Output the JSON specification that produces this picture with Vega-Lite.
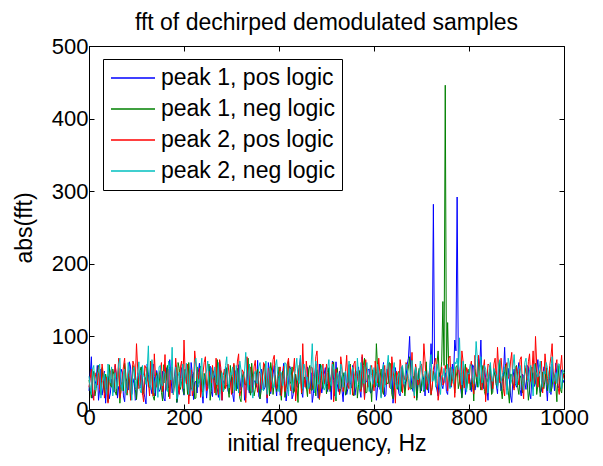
{
"$schema": "https://vega.github.io/schema/vega-lite/v6.json",
"width": 475, "height": 363,
"autosize": {"type": "none"},
"padding": {"left": 89, "top": 46, "right": 39, "bottom": 57},
"background": "white",
"config": {
  "font": "Liberation Sans",
  "view": {"stroke": "black", "strokeWidth": 1},
  "axis": {"grid": false, "domainColor": "black", "tickColor": "black", "labelColor": "black", "titleColor": "black", "labelFont": "Liberation Sans", "titleFont": "Liberation Sans", "labelFontSize": 22, "titleFontSize": 23, "titleFontWeight": "normal", "tickSize": -5, "domainWidth": 1, "tickWidth": 1, "labelFlush": false, "labelOverlap": false}
},
"title": {"text": "fft of dechirped demodulated samples", "fontSize": 23, "fontWeight": "normal", "color": "black", "font": "Liberation Sans", "baseline": "bottom", "offset": -23},
"data": {"values": [
{"f":0,"a":25,"b":40,"c":30,"d":45},{"f":2.5,"a":48,"b":26,"c":42,"d":30},{"f":5,"a":72,"b":15,"c":55,"d":20},{"f":7.5,"a":15,"b":44,"c":20,"d":55},{"f":10,"a":18,"b":52,"c":12,"d":60},{"f":12.5,"a":33,"b":18,"c":50,"d":26},{"f":15,"a":40,"b":28,"c":42,"d":33},{"f":17.5,"a":60,"b":50,"c":33,"d":48},{"f":20,"a":12,"b":60,"c":58,"d":52},{"f":22.5,"a":27,"b":35,"c":27,"d":62},
{"f":25,"a":55,"b":20,"c":20,"d":15},{"f":27.5,"a":19,"b":57,"c":62,"d":36},{"f":30,"a":30,"b":35,"c":48,"d":40},{"f":32.5,"a":52,"b":22,"c":15,"d":50},{"f":35,"a":8,"b":48,"c":35,"d":28},{"f":37.5,"a":36,"b":40,"c":44,"d":20},{"f":40,"a":45,"b":10,"c":8,"d":62},{"f":42.5,"a":14,"b":61,"c":38,"d":44},{"f":45,"a":22,"b":33,"c":50,"d":36},{"f":47.5,"a":41,"b":30,"c":56,"d":58},
{"f":50,"a":35,"b":55,"c":26,"d":18},{"f":52.5,"a":23,"b":47,"c":31,"d":40},{"f":55,"a":60,"b":24,"c":62,"d":50},{"f":57.5,"a":47,"b":19,"c":48,"d":28},{"f":60,"a":15,"b":42,"c":38,"d":42},{"f":62.5,"a":31,"b":56,"c":70,"d":62},{"f":65,"a":28,"b":8,"c":15,"d":70},{"f":67.5,"a":55,"b":33,"c":24,"d":35},{"f":70,"a":50,"b":37,"c":45,"d":25},{"f":72.5,"a":18,"b":25,"c":58,"d":50},
{"f":75,"a":10,"b":63,"c":70,"d":55},{"f":77.5,"a":42,"b":48,"c":36,"d":22},{"f":80,"a":38,"b":19,"c":22,"d":30},{"f":82.5,"a":26,"b":38,"c":45,"d":64},{"f":85,"a":65,"b":46,"c":53,"d":48},{"f":87.5,"a":58,"b":14,"c":12,"d":38},{"f":90,"a":20,"b":29,"c":33,"d":12},{"f":92.5,"a":35,"b":60,"c":66,"d":54},{"f":95,"a":42,"b":51,"c":60,"d":58},{"f":97.5,"a":12,"b":27,"c":40,"d":30},
{"f":100,"a":14,"b":13,"c":90,"d":38},{"f":102.5,"a":50,"b":42,"c":55,"d":48},{"f":105,"a":33,"b":39,"c":28,"d":65},{"f":107.5,"a":29,"b":53,"c":34,"d":26},{"f":110,"a":58,"b":58,"c":47,"d":22},{"f":112.5,"a":40,"b":20,"c":22,"d":60},{"f":115,"a":25,"b":22,"c":10,"d":46},{"f":117.5,"a":16,"b":36,"c":60,"d":42},{"f":120,"a":7,"b":45,"c":56,"d":34},{"f":122.5,"a":62,"b":58,"c":41,"d":55},
{"f":125,"a":48,"b":31,"c":37,"d":87},{"f":127.5,"a":34,"b":29,"c":18,"d":32},{"f":130,"a":30,"b":66,"c":65,"d":27},{"f":132.5,"a":21,"b":45,"c":52,"d":68},{"f":135,"a":62,"b":17,"c":18,"d":53},{"f":137.5,"a":45,"b":12,"c":76,"d":22},{"f":140,"a":18,"b":41,"c":44,"d":40},{"f":142.5,"a":53,"b":50,"c":30,"d":46},{"f":145,"a":40,"b":26,"c":30,"d":16},{"f":147.5,"a":24,"b":34,"c":47,"d":58},
{"f":150,"a":27,"b":53,"c":52,"d":60},{"f":152.5,"a":38,"b":23,"c":64,"d":36},{"f":155,"a":52,"b":11,"c":24,"d":32},{"f":157.5,"a":15,"b":61,"c":38,"d":52},{"f":160,"a":11,"b":36,"c":75,"d":49},{"f":162.5,"a":57,"b":40,"c":26,"d":28},{"f":165,"a":36,"b":60,"c":40,"d":24},{"f":167.5,"a":29,"b":17,"c":55,"d":66},{"f":170,"a":68,"b":24,"c":14,"d":57},{"f":172.5,"a":44,"b":52,"c":45,"d":40},
{"f":175,"a":22,"b":47,"c":58,"d":85},{"f":177.5,"a":33,"b":31,"c":20,"d":20},{"f":180,"a":45,"b":30,"c":32,"d":36},{"f":182.5,"a":60,"b":46,"c":70,"d":58},{"f":185,"a":9,"b":9,"c":49,"d":14},{"f":187.5,"a":20,"b":64,"c":35,"d":45},{"f":190,"a":31,"b":56,"c":20,"d":51},{"f":192.5,"a":42,"b":27,"c":58,"d":30},{"f":195,"a":57,"b":38,"c":66,"d":42},{"f":197.5,"a":26,"b":38,"c":28,"d":62},
{"f":200,"a":19,"b":20,"c":95,"d":28},{"f":202.5,"a":54,"b":55,"c":48,"d":44},{"f":205,"a":43,"b":44,"c":35,"d":63},{"f":207.5,"a":31,"b":20,"c":62,"d":35},{"f":210,"a":26,"b":64,"c":7,"d":20},{"f":212.5,"a":18,"b":43,"c":33,"d":56},{"f":215,"a":64,"b":27,"c":54,"d":45},{"f":217.5,"a":49,"b":30,"c":18,"d":25},{"f":220,"a":13,"b":50,"c":27,"d":38},{"f":222.5,"a":37,"b":14,"c":80,"d":62},
{"f":225,"a":38,"b":15,"c":62,"d":70},{"f":227.5,"a":22,"b":58,"c":42,"d":48},{"f":230,"a":50,"b":35,"c":41,"d":30},{"f":232.5,"a":63,"b":37,"c":56,"d":38},{"f":235,"a":24,"b":59,"c":16,"d":55},{"f":237.5,"a":28,"b":25,"c":30,"d":70},{"f":240,"a":8,"b":23,"c":50,"d":17},{"f":242.5,"a":40,"b":49,"c":64,"d":32},{"f":245,"a":47,"b":42,"c":72,"d":48},{"f":247.5,"a":15,"b":33,"c":25,"d":52},
{"f":250,"a":33,"b":32,"c":29,"d":66},{"f":252.5,"a":46,"b":62,"c":52,"d":28},{"f":255,"a":59,"b":12,"c":45,"d":25},{"f":257.5,"a":24,"b":28,"c":36,"d":57},{"f":260,"a":17,"b":54,"c":60,"d":41},{"f":262.5,"a":52,"b":45,"c":44,"d":46},{"f":265,"a":41,"b":39,"c":22,"d":58},{"f":267.5,"a":30,"b":19,"c":70,"d":36},{"f":270,"a":28,"b":68,"c":38,"d":33},{"f":272.5,"a":16,"b":36,"c":20,"d":64},
{"f":275,"a":66,"b":21,"c":68,"d":12},{"f":277.5,"a":44,"b":53,"c":57,"d":40},{"f":280,"a":12,"b":46,"c":12,"d":50},{"f":282.5,"a":39,"b":24,"c":46,"d":24},{"f":285,"a":35,"b":28,"c":55,"d":44},{"f":287.5,"a":57,"b":47,"c":28,"d":60},{"f":290,"a":53,"b":57,"c":34,"d":72},{"f":292.5,"a":25,"b":31,"c":62,"d":35},{"f":295,"a":21,"b":16,"c":48,"d":29},{"f":297.5,"a":36,"b":60,"c":38,"d":50},
{"f":300,"a":44,"b":43,"c":20,"d":47},{"f":302.5,"a":20,"b":22,"c":45,"d":58},{"f":305,"a":10,"b":61,"c":63,"d":36},{"f":307.5,"a":53,"b":40,"c":30,"d":26},{"f":310,"a":37,"b":25,"c":42,"d":60},{"f":312.5,"a":28,"b":56,"c":66,"d":44},{"f":315,"a":61,"b":36,"c":76,"d":22},{"f":317.5,"a":43,"b":15,"c":18,"d":66},{"f":320,"a":26,"b":10,"c":26,"d":54},{"f":322.5,"a":34,"b":44,"c":54,"d":30},
{"f":325,"a":49,"b":49,"c":51,"d":40},{"f":327.5,"a":12,"b":34,"c":40,"d":52},{"f":330,"a":15,"b":33,"c":9,"d":78},{"f":332.5,"a":58,"b":52,"c":72,"d":40},{"f":335,"a":32,"b":70,"c":44,"d":26},{"f":337.5,"a":22,"b":27,"c":33,"d":62},{"f":340,"a":56,"b":19,"c":58,"d":45},{"f":342.5,"a":47,"b":63,"c":22,"d":24},{"f":345,"a":23,"b":40,"c":31,"d":15},{"f":347.5,"a":38,"b":18,"c":58,"d":48},
{"f":350,"a":39,"b":27,"c":67,"d":52},{"f":352.5,"a":30,"b":48,"c":36,"d":36},{"f":355,"a":67,"b":55,"c":23,"d":35},{"f":357.5,"a":17,"b":36,"c":52,"d":58},{"f":360,"a":14,"b":14,"c":49,"d":64},{"f":362.5,"a":55,"b":25,"c":28,"d":45},{"f":365,"a":46,"b":45,"c":36,"d":28},{"f":367.5,"a":26,"b":57,"c":64,"d":25},{"f":370,"a":29,"b":62,"c":60,"d":48},{"f":372.5,"a":41,"b":30,"c":42,"d":66},
{"f":375,"a":8,"b":30,"c":15,"d":20},{"f":377.5,"a":64,"b":42,"c":56,"d":40},{"f":380,"a":52,"b":18,"c":53,"d":58},{"f":382.5,"a":21,"b":64,"c":24,"d":54},{"f":385,"a":34,"b":51,"c":40,"d":42},{"f":387.5,"a":48,"b":20,"c":68,"d":30},{"f":390,"a":60,"b":37,"c":74,"d":30},{"f":392.5,"a":33,"b":46,"c":35,"d":60},{"f":395,"a":18,"b":24,"c":28,"d":68},{"f":397.5,"a":45,"b":35,"c":47,"d":44},
{"f":400,"a":42,"b":58,"c":46,"d":24},{"f":402.5,"a":19,"b":29,"c":58,"d":52},{"f":405,"a":25,"b":12,"c":18,"d":50},{"f":407.5,"a":50,"b":52,"c":40,"d":32},{"f":410,"a":63,"b":41,"c":59,"d":38},{"f":412.5,"a":35,"b":16,"c":24,"d":64},{"f":415,"a":11,"b":29,"c":33,"d":62},{"f":417.5,"a":27,"b":45,"c":62,"d":40},{"f":420,"a":36,"b":66,"c":70,"d":18},{"f":422.5,"a":59,"b":38,"c":36,"d":56},
{"f":425,"a":54,"b":35,"c":25,"d":46},{"f":427.5,"a":14,"b":58,"c":48,"d":26},{"f":430,"a":20,"b":22,"c":52,"d":33},{"f":432.5,"a":40,"b":24,"c":70,"d":48},{"f":435,"a":47,"b":48,"c":11,"d":56},{"f":437.5,"a":31,"b":34,"c":30,"d":70},{"f":440,"a":30,"b":9,"c":43,"d":40},{"f":442.5,"a":56,"b":60,"c":55,"d":35},{"f":445,"a":70,"b":53,"c":64,"d":74},{"f":447.5,"a":24,"b":21,"c":22,"d":50},
{"f":450,"a":16,"b":31,"c":90,"d":28},{"f":452.5,"a":44,"b":43,"c":44,"d":62},{"f":455,"a":40,"b":44,"c":30,"d":53},{"f":457.5,"a":28,"b":30,"c":66,"d":40},{"f":460,"a":58,"b":17,"c":48,"d":44},{"f":462.5,"a":36,"b":55,"c":35,"d":28},{"f":465,"a":27,"b":60,"c":21,"d":35},{"f":467.5,"a":50,"b":26,"c":58,"d":58},{"f":470,"a":9,"b":26,"c":57,"d":90},{"f":472.5,"a":21,"b":49,"c":28,"d":46},
{"f":475,"a":44,"b":39,"c":38,"d":22},{"f":477.5,"a":62,"b":18,"c":72,"d":66},{"f":480,"a":35,"b":54,"c":80,"d":50},{"f":482.5,"a":15,"b":40,"c":46,"d":34},{"f":485,"a":62,"b":13,"c":14,"d":37},{"f":487.5,"a":39,"b":62,"c":26,"d":52},{"f":490,"a":22,"b":47,"c":50,"d":60},{"f":492.5,"a":33,"b":28,"c":62,"d":44},{"f":495,"a":48,"b":34,"c":35,"d":26},{"f":497.5,"a":57,"b":46,"c":40,"d":30},
{"f":500,"a":31,"b":21,"c":62,"d":48},{"f":502.5,"a":24,"b":35,"c":50,"d":56},{"f":505,"a":56,"b":57,"c":27,"d":68},{"f":507.5,"a":41,"b":24,"c":38,"d":38},{"f":510,"a":13,"b":38,"c":45,"d":32},{"f":512.5,"a":66,"b":50,"c":64,"d":62},{"f":515,"a":39,"b":65,"c":10,"d":55},{"f":517.5,"a":18,"b":33,"c":30,"d":42},{"f":520,"a":65,"b":11,"c":55,"d":16},{"f":522.5,"a":35,"b":57,"c":46,"d":50},
{"f":525,"a":24,"b":42,"c":40,"d":45},{"f":527.5,"a":52,"b":20,"c":20,"d":28},{"f":530,"a":43,"b":28,"c":72,"d":62},{"f":532.5,"a":27,"b":45,"c":58,"d":54},{"f":535,"a":10,"b":50,"c":24,"d":30},{"f":537.5,"a":47,"b":38,"c":42,"d":46},{"f":540,"a":51,"b":19,"c":51,"d":52},{"f":542.5,"a":20,"b":28,"c":74,"d":36},{"f":545,"a":28,"b":36,"c":33,"d":38},{"f":547.5,"a":61,"b":55,"c":28,"d":66},
{"f":550,"a":37,"b":62,"c":58,"d":20},{"f":552.5,"a":29,"b":40,"c":45,"d":40},{"f":555,"a":60,"b":25,"c":19,"d":58},{"f":557.5,"a":40,"b":18,"c":62,"d":52},{"f":560,"a":19,"b":45,"c":66,"d":43},{"f":562.5,"a":33,"b":52,"c":35,"d":30},{"f":565,"a":45,"b":15,"c":42,"d":70},{"f":567.5,"a":58,"b":34,"c":54,"d":48},{"f":570,"a":26,"b":53,"c":30,"d":27},{"f":572.5,"a":16,"b":26,"c":24,"d":64},
{"f":575,"a":72,"b":32,"c":75,"d":50},{"f":577.5,"a":46,"b":60,"c":48,"d":36},{"f":580,"a":14,"b":70,"c":13,"d":35},{"f":582.5,"a":37,"b":22,"c":68,"d":56},{"f":585,"a":38,"b":23,"c":48,"d":64},{"f":587.5,"a":54,"b":47,"c":30,"d":42},{"f":590,"a":55,"b":40,"c":36,"d":24},{"f":592.5,"a":22,"b":36,"c":57,"d":60},{"f":595,"a":23,"b":10,"c":60,"d":46},{"f":597.5,"a":32,"b":54,"c":40,"d":34},
{"f":600,"a":41,"b":48,"c":25,"d":57},{"f":602.5,"a":49,"b":30,"c":66,"d":44},{"f":605,"a":12,"b":90,"c":52,"d":32},{"f":607.5,"a":30,"b":58,"c":36,"d":62},{"f":610,"a":50,"b":30,"c":70,"d":48},{"f":612.5,"a":27,"b":42,"c":48,"d":36},{"f":615,"a":33,"b":55,"c":17,"d":15},{"f":617.5,"a":44,"b":26,"c":26,"d":54},{"f":620,"a":64,"b":20,"c":44,"d":62},{"f":622.5,"a":17,"b":50,"c":60,"d":30},
{"f":625,"a":20,"b":44,"c":33,"d":40},{"f":627.5,"a":55,"b":35,"c":42,"d":58},{"f":630,"a":46,"b":35,"c":63,"d":74},{"f":632.5,"a":36,"b":64,"c":30,"d":46},{"f":635,"a":29,"b":62,"c":28,"d":28},{"f":637.5,"a":60,"b":20,"c":72,"d":40},{"f":640,"a":8,"b":14,"c":55,"d":52},{"f":642.5,"a":25,"b":44,"c":38,"d":64},{"f":645,"a":57,"b":50,"c":8,"d":36},{"f":647.5,"a":40,"b":32,"c":52,"d":28},
{"f":650,"a":35,"b":27,"c":47,"d":44},{"f":652.5,"a":21,"b":52,"c":34,"d":50},{"f":655,"a":18,"b":38,"c":68,"d":22},{"f":657.5,"a":58,"b":24,"c":55,"d":56},{"f":660,"a":48,"b":58,"c":22,"d":60},{"f":662.5,"a":34,"b":40,"c":46,"d":34},{"f":665,"a":27,"b":18,"c":40,"d":38},{"f":667.5,"a":45,"b":36,"c":64,"d":62},{"f":670,"a":62,"b":46,"c":58,"d":55},{"f":672.5,"a":70,"b":58,"c":26,"d":42},
{"f":675,"a":100,"b":72,"c":30,"d":30},{"f":677.5,"a":48,"b":27,"c":50,"d":48},{"f":680,"a":30,"b":29,"c":78,"d":67},{"f":682.5,"a":24,"b":45,"c":40,"d":30},{"f":685,"a":44,"b":41,"c":15,"d":18},{"f":687.5,"a":56,"b":60,"c":62,"d":58},{"f":690,"a":15,"b":12,"c":50,"d":49},{"f":692.5,"a":38,"b":30,"c":33,"d":40},{"f":695,"a":53,"b":56,"c":36,"d":42},{"f":697.5,"a":30,"b":22,"c":58,"d":66},
{"f":700,"a":25,"b":33,"c":62,"d":58},{"f":702.5,"a":46,"b":48,"c":45,"d":36},{"f":705,"a":40,"b":24,"c":90,"d":26},{"f":707.5,"a":18,"b":39,"c":66,"d":52},{"f":710,"a":60,"b":65,"c":27,"d":46},{"f":712.5,"a":35,"b":26,"c":38,"d":44},{"f":715,"a":22,"b":40,"c":45,"d":35},{"f":717.5,"a":52,"b":54,"c":56,"d":60},{"f":720,"a":90,"b":19,"c":20,"d":75},{"f":722.5,"a":62,"b":30,"c":30,"d":38},
{"f":725,"a":282,"b":52,"c":55,"d":40},{"f":727.5,"a":60,"b":44,"c":64,"d":50},{"f":730,"a":35,"b":36,"c":70,"d":30},{"f":732.5,"a":26,"b":62,"c":42,"d":62},{"f":735,"a":18,"b":80,"c":12,"d":52},{"f":737.5,"a":50,"b":45,"c":25,"d":34},{"f":740,"a":45,"b":45,"c":48,"d":20},{"f":742.5,"a":33,"b":66,"c":58,"d":46},{"f":745,"a":28,"b":148,"c":33,"d":45},{"f":747.5,"a":42,"b":60,"c":36,"d":56},
{"f":750,"a":50,"b":446,"c":60,"d":38},{"f":752.5,"a":24,"b":55,"c":48,"d":48},{"f":755,"a":20,"b":119,"c":25,"d":62},{"f":757.5,"a":57,"b":52,"c":70,"d":40},{"f":760,"a":38,"b":30,"c":73,"d":28},{"f":762.5,"a":30,"b":36,"c":32,"d":58},{"f":765,"a":62,"b":50,"c":38,"d":50},{"f":767.5,"a":45,"b":44,"c":55,"d":35},{"f":770,"a":95,"b":22,"c":16,"d":65},{"f":772.5,"a":80,"b":58,"c":44,"d":62},
{"f":775,"a":292,"b":60,"c":52,"d":70},{"f":777.5,"a":65,"b":28,"c":62,"d":54},{"f":780,"a":42,"b":38,"c":42,"d":98},{"f":782.5,"a":28,"b":50,"c":28,"d":45},{"f":785,"a":16,"b":15,"c":80,"d":33},{"f":787.5,"a":48,"b":32,"c":66,"d":66},{"f":790,"a":55,"b":47,"c":29,"d":56},{"f":792.5,"a":20,"b":62,"c":40,"d":38},{"f":795,"a":30,"b":28,"c":57,"d":24},{"f":797.5,"a":52,"b":40,"c":52,"d":50},
{"f":800,"a":47,"b":55,"c":35,"d":48},{"f":802.5,"a":38,"b":26,"c":58,"d":62},{"f":805,"a":24,"b":34,"c":66,"d":60},{"f":807.5,"a":61,"b":45,"c":30,"d":42},{"f":810,"a":58,"b":11,"c":21,"d":35},{"f":812.5,"a":26,"b":55,"c":74,"d":56},{"f":815,"a":35,"b":43,"c":48,"d":93},{"f":817.5,"a":48,"b":30,"c":44,"d":70},{"f":820,"a":70,"b":64,"c":74,"d":30},{"f":822.5,"a":58,"b":38,"c":52,"d":48},
{"f":825,"a":95,"b":26,"c":31,"d":72},{"f":827.5,"a":36,"b":60,"c":26,"d":36},{"f":830,"a":28,"b":49,"c":55,"d":42},{"f":832.5,"a":54,"b":24,"c":68,"d":60},{"f":835,"a":44,"b":18,"c":10,"d":55},{"f":837.5,"a":30,"b":42,"c":38,"d":44},{"f":840,"a":12,"b":37,"c":62,"d":22},{"f":842.5,"a":45,"b":50,"c":60,"d":54},{"f":845,"a":60,"b":58,"c":40,"d":64},{"f":847.5,"a":22,"b":20,"c":45,"d":40},
{"f":850,"a":33,"b":23,"c":28,"d":38},{"f":852.5,"a":50,"b":54,"c":62,"d":56},{"f":855,"a":52,"b":45,"c":70,"d":50},{"f":857.5,"a":33,"b":33,"c":36,"d":46},{"f":860,"a":21,"b":31,"c":85,"d":28},{"f":862.5,"a":62,"b":47,"c":55,"d":62},{"f":865,"a":48,"b":66,"c":36,"d":68},{"f":867.5,"a":25,"b":28,"c":70,"d":38},{"f":870,"a":38,"b":14,"c":50,"d":45},{"f":872.5,"a":47,"b":40,"c":28,"d":52},
{"f":875,"a":85,"b":52,"c":18,"d":58},{"f":877.5,"a":40,"b":62,"c":58,"d":44},{"f":880,"a":26,"b":39,"c":64,"d":20},{"f":882.5,"a":56,"b":25,"c":42,"d":70},{"f":885,"a":40,"b":8,"c":45,"d":62},{"f":887.5,"a":18,"b":48,"c":66,"d":34},{"f":890,"a":9,"b":47,"c":78,"d":40},{"f":892.5,"a":43,"b":36,"c":34,"d":58},{"f":895,"a":55,"b":29,"c":26,"d":75},{"f":897.5,"a":35,"b":57,"c":52,"d":48},
{"f":900,"a":30,"b":60,"c":58,"d":32},{"f":902.5,"a":52,"b":30,"c":44,"d":42},{"f":905,"a":64,"b":20,"c":33,"d":54},{"f":907.5,"a":27,"b":46,"c":68,"d":60},{"f":910,"a":18,"b":42,"c":72,"d":46},{"f":912.5,"a":48,"b":22,"c":30,"d":36},{"f":915,"a":45,"b":35,"c":14,"d":26},{"f":917.5,"a":36,"b":52,"c":60,"d":64},{"f":920,"a":27,"b":56,"c":49,"d":70},{"f":922.5,"a":60,"b":38,"c":40,"d":46},
{"f":925,"a":58,"b":12,"c":65,"d":38},{"f":927.5,"a":22,"b":27,"c":76,"d":54},{"f":930,"a":14,"b":48,"c":38,"d":60},{"f":932.5,"a":44,"b":58,"c":52,"d":40},{"f":935,"a":50,"b":27,"c":80,"d":18},{"f":937.5,"a":31,"b":40,"c":35,"d":62},{"f":940,"a":36,"b":63,"c":100,"d":52},{"f":942.5,"a":55,"b":20,"c":62,"d":48},{"f":945,"a":68,"b":33,"c":30,"d":44},{"f":947.5,"a":40,"b":45,"c":48,"d":56},
{"f":950,"a":22,"b":17,"c":54,"d":66},{"f":952.5,"a":25,"b":35,"c":66,"d":38},{"f":955,"a":43,"b":51,"c":22,"d":30},{"f":957.5,"a":58,"b":28,"c":40,"d":52},{"f":960,"a":57,"b":40,"c":76,"d":48},{"f":962.5,"a":34,"b":56,"c":58,"d":64},{"f":965,"a":11,"b":25,"c":42,"d":57},{"f":967.5,"a":47,"b":42,"c":34,"d":44},{"f":970,"a":39,"b":58,"c":60,"d":22},{"f":972.5,"a":20,"b":24,"c":72,"d":58},
{"f":975,"a":62,"b":30,"c":90,"d":72},{"f":977.5,"a":43,"b":50,"c":46,"d":36},{"f":980,"a":25,"b":44,"c":35,"d":40},{"f":982.5,"a":63,"b":33,"c":60,"d":50},{"f":985,"a":48,"b":10,"c":68,"d":35},{"f":987.5,"a":29,"b":60,"c":30,"d":62},{"f":990,"a":32,"b":38,"c":20,"d":62},{"f":992.5,"a":50,"b":27,"c":55,"d":42},{"f":995,"a":54,"b":22,"c":74,"d":28},{"f":997.5,"a":36,"b":44,"c":42,"d":54},
{"f":1000,"a":40,"b":50,"c":48,"d":50}
]},
"layer": [
  {
    "transform": [{"fold": ["a", "b", "c", "d"], "as": ["s", "v"]}],
    "mark": {"type": "line", "strokeWidth": 1},
    "encoding": {
      "x": {"field": "f", "type": "quantitative", "scale": {"domain": [0, 1000], "nice": false, "zero": false}, "axis": {"values": [0, 200, 400, 600, 800, 1000], "format": "d", "title": "initial frequency, Hz", "labelPadding": 3, "titlePadding": 4}},
      "y": {"field": "v", "type": "quantitative", "scale": {"domain": [0, 500], "nice": false}, "axis": {"values": [0, 100, 200, 300, 400, 500], "format": "d", "title": "abs(fft)", "labelPadding": 6, "titlePadding": 15}},
      "color": {"field": "s", "type": "nominal", "scale": {"domain": ["a", "b", "c", "d"], "range": ["#0000ff", "#008000", "#ff0000", "#00bfbf"]},
        "legend": {"orient": "none", "legendX": 14, "legendY": 13, "title": null, "symbolType": "M-1,0H3", "symbolSize": 484, "symbolStrokeWidth": 1.3, "symbolFillColor": "transparent", "labelFontSize": 23, "labelFont": "Liberation Sans", "labelColor": "black", "labelLimit": 400, "strokeColor": "black", "fillColor": "white", "padding": 7, "rowPadding": 7, "labelOffset": 27,
          "labelExpr": "datum.value == 'a' ? 'peak 1, pos logic' : datum.value == 'b' ? 'peak 1, neg logic' : datum.value == 'c' ? 'peak 2, pos logic' : 'peak 2, neg logic'"}}
    }
  },
  {
    "data": {"values": [{"f": 0, "v": 0}]},
    "mark": {"type": "point", "opacity": 0},
    "encoding": {
      "x": {"field": "f", "type": "quantitative", "axis": {"orient": "top", "labels": false, "title": null, "values": [0, 200, 400, 600, 800, 1000], "domain": false}},
      "y": {"field": "v", "type": "quantitative", "axis": {"orient": "right", "labels": false, "title": null, "values": [0, 100, 200, 300, 400, 500], "domain": false}}
    }
  }
],
"resolve": {"axis": {"x": "independent", "y": "independent"}}
}
